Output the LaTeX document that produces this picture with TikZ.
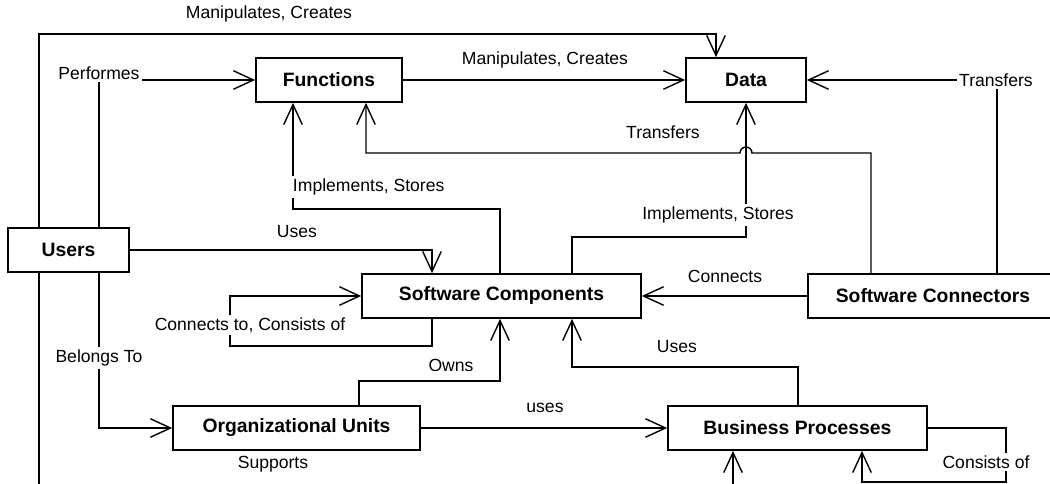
\documentclass[tikz,border=0pt]{standalone}
\usepackage{fontspec}
\setmainfont{Liberation Sans}
\usetikzlibrary{arrows.meta}

\tikzset{
  entity/.style={draw,line width=1pt,minimum height=0.88cm,inner sep=0pt,font=\fontsize{11}{13}\selectfont\bfseries},
  lbl/.style={fill=white,inner sep=1.5pt,font=\fontsize{10}{12}\selectfont},
  rel/.style={-{Straight Barb[length=4mm,width=3.7mm]},line width=0.8pt}
}

\begin{document}
\begin{tikzpicture}
\useasboundingbox (0,0) rectangle (21,-9.68);
\clip (0,0) rectangle (21,-9.68);

\draw (6.58,-1.60) node[entity,minimum width=2.92cm] (functions) {Functions};
\draw (14.92,-1.60) node[entity,minimum width=2.40cm] (data) {Data};
\draw (1.37,-5.00) node[entity,minimum width=2.42cm] (users) {Users};
\draw (10.03,-5.92) node[entity,minimum width=5.58cm] (scomp) {Software Components};
\draw (18.66,-5.92) node[entity,minimum width=5.00cm] (sconn) {Software Connectors};
\draw (5.93,-8.56) node[entity,minimum width=4.94cm] (units) {Organizational Units};
\draw (15.95,-8.56) node[entity,minimum width=5.18cm] (bproc) {Business Processes};

\draw[rel] (0.78,0 |- users.north) -- (0.78,-0.68) -| (14.32,0 |- data.north);
\draw[rel] (1.98,0 |- users.north) |- (functions.west);
\draw[rel] (functions) -- (data);
\draw[rel] (19.94,0 |- sconn.north) |- (data.east);
\draw[rel] (17.42,0 |- sconn.north) -- (17.42,-3.06) -- (15.04,-3.06)
  arc[start angle=0,end angle=180,radius=0.12] -| (7.32,0 |- functions.south);
\draw[rel] (10.00,0 |- scomp.north) -- (10.00,-4.18) -| (5.86,0 |- functions.south);
\draw[rel] (11.44,0 |- scomp.north) -- (11.44,-4.74) -| (data.south);
\draw[rel] (users.east) -| (8.64,0 |- scomp.north);
\draw[rel] (8.64,0 |- scomp.south) |- (4.60,-6.92) |- (scomp.west);
\draw[rel] (sconn) -- (scomp);
\draw[rel] (1.98,0 |- users.south) |- (units.west);
\draw[rel] (7.18,0 |- units.north) -- (7.18,-7.62) -| (10.00,0 |- scomp.south);
\draw[rel] (units) -- (bproc);
\draw[rel] (15.96,0 |- bproc.north) -- (15.96,-7.34) -| (11.44,0 |- scomp.south);
\draw[rel] (bproc.east) -| (20.12,-9.64) -| (17.24,0 |- bproc.south);
\draw[rel] (0.78,0 |- users.south) -- (0.78,-10.20) -| (14.66,0 |- bproc.south);

\draw (5.38,-0.28) node[lbl] (lmanip) {Manipulates, Creates};
\draw (1.98,-1.46) node[lbl] (lperf) {Performes};
\draw (10.90,-1.20) node[lbl] (lmanipfd) {Manipulates, Creates};
\draw (19.92,-1.60) node[lbl] (ltransd) {Transfers};
\draw (13.26,-2.64) node[lbl] (ltransf) {Transfers};
\draw (5.80,-3.74) node[lbl,anchor=west] (limplf) {Implements, Stores};
\draw (14.36,-4.30) node[lbl] (limpld) {Implements, Stores};
\draw (5.94,-4.64) node[lbl] (luses) {Uses};
\draw (5.00,-6.50) node[lbl] (lconto) {Connects to, Consists of};
\draw (14.50,-5.52) node[lbl] (lconn) {Connects};
\draw (1.98,-7.16) node[lbl] (lbelong) {Belongs To};
\draw (9.02,-7.30) node[lbl] (lowns) {Owns};
\draw (10.90,-8.16) node[lbl] (lusesbp) {uses};
\draw (13.54,-6.94) node[lbl] (lusessc) {Uses};
\draw (19.72,-9.24) node[lbl] (lconsist) {Consists of};
\draw (5.46,-9.28) node[lbl] (lsupp) {Supports};
\end{tikzpicture}
\end{document}
